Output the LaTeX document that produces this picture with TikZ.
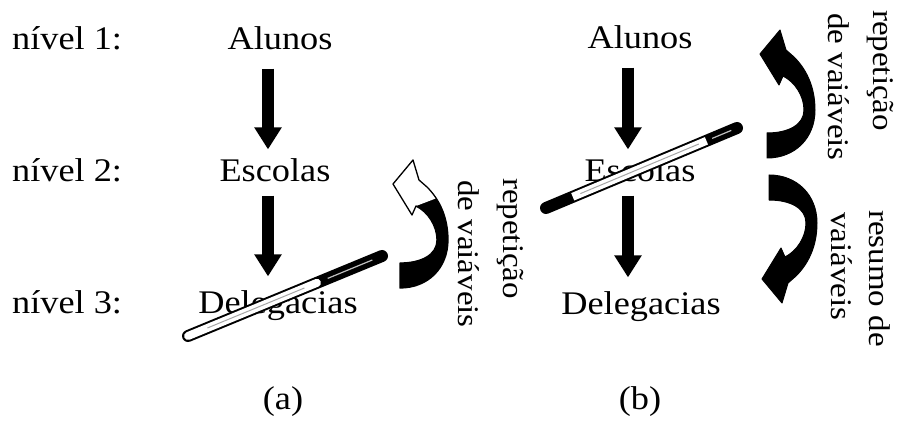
\documentclass[tikz,border=0pt]{standalone}
\usepackage{fontspec}
\setmainfont{Liberation Serif}[FakeStretch=1.1]
\usetikzlibrary{arrows.meta,calc}
\tikzset{
  curvpath/.style={insert path={(0,0) -- (-20,24) -- (-1,55) -- (3,46)
      .. controls (15,52) and (24,66) .. (24,80)
      .. controls (24,95) and (8,103) .. (-13,103)
      -- (-13,128)
      .. controls (15,128) and (35,108) .. (35,80)
      .. controls (35,55) and (25,38) .. (14,27)
      -- (6,20) -- cycle}}
}
\begin{document}
\begin{tikzpicture}[x=1pt,y=-1pt,
  lbl/.style={font=\fontsize{33}{40}\selectfont, inner sep=0pt, anchor=base},
  side/.style={font=\fontsize{30}{36}\selectfont, inner sep=0pt, anchor=base west, rotate=-90},
  downarrow/.style={line width=12pt, -{Triangle[width=26pt,length=22pt]}},
  rodout/.style={line width=12pt, line cap=round, black},
  rodin/.style={line width=8pt, white},
  rodhl/.style={line width=1pt, gray!70},
  curvedge/.style={draw=black, line width=1.3pt, line join=round}]
\useasboundingbox[fill=white] (0,0) rectangle (898,425);

% level labels
\node[lbl, anchor=base west] (n1) at (12,50) {nível 1:};
\node[lbl, anchor=base west] (n2) at (12,182) {nível 2:};
\node[lbl, anchor=base west] (n3) at (12,313) {nível 3:};

% panel (a)
\node[lbl] (a1) at (280,50) {Alunos};
\node[lbl] (a2) at (275,182) {Escolas};
\node[lbl] (a3) at (278,313) {Delegacias};
% panel (b)
\node[lbl] (b1) at (640,49) {Alunos};
\node[lbl] (b2) at (640,182) {Escolas};
\node[lbl] (b3) at (641,314) {Delegacias};

\node[lbl] (capa) at (283,409) {(a)};
\node[lbl] (capb) at (640,409) {(b)};

% vertical arrows
\coordinate (colA) at (268,0);
\coordinate (colB) at (628,0);
\draw[downarrow, shorten <=18pt, shorten >=9.5pt] (a1.south -| colA) -- (a2.north -| colA);
\draw[downarrow, shorten <=13pt, shorten >=13.5pt] (a2.south -| colA) -- (a3.north -| colA);
\draw[downarrow, shorten <=18pt, shorten >=9.5pt] (b1.south -| colB) -- (b2.north -| colB);
\draw[downarrow, shorten <=13pt, shorten >=13.5pt] (b2.south -| colB) -- (b3.north -| colB);

% rod (a)
\coordinate (ra1) at (188,336);
\coordinate (ra2) at (382,256);
\draw[rodout] (ra1) -- (ra2);
\draw[rodin, line cap=round] (ra1) -- ($(ra1)!0.665!(ra2)$);
\draw[rodhl] ($(ra1)!0.1!(ra2)$) -- ($(ra1)!0.6!(ra2)$);
\draw[line width=1.2pt, gray!50] ($(ra1)!0.72!(ra2)$) -- ($(ra1)!0.95!(ra2)$);

% rod (b)
\coordinate (rb1) at (546,208);
\coordinate (rb2) at (737,128);
\draw[rodout] (rb1) -- (rb2);
\draw[rodin] ($(rb1)!0.14!(rb2)$) -- ($(rb1)!0.84!(rb2)$);
\draw[rodhl] ($(rb1)!0.18!(rb2)$) -- ($(rb1)!0.8!(rb2)$);
\draw[line width=1.2pt, gray!50] ($(rb1)!0.87!(rb2)$) -- ($(rb1)!0.97!(rb2)$);

% curved arrow (a): white head, black body
\begin{scope}[shift={(413,160)}]
  \fill[black, curvpath];
  \begin{scope}
    \clip (-30,-10) -- (45,-10) -- (45,30) -- (3,46) -- (3,70) -- (-30,70) -- cycle;
    \fill[white, curvpath];
  \end{scope}
  \path[curvedge, curvpath];
\end{scope}

% curved arrows (b)
\begin{scope}[shift={(780,30)}]
  \path[fill=black, curvedge, line width=1pt, curvpath];
\end{scope}
\begin{scope}[shift={(782,303)}, yscale=-1]
  \path[fill=black, curvedge, line width=1pt, curvpath];
\end{scope}

% rotated side labels
\node[side] (sa1) at (503,178) {repetição};
\node[side] (sa2) at (458,180) {de vaiáveis};
\node[side] (sb1) at (873,10) {repetição};
\node[side] (sb2) at (828,13) {de vaiáveis};
\node[side] (sc1) at (869,210) {resumo de};
\node[side] (sc2) at (831,212) {vaiáveis};
\end{tikzpicture}
\end{document}
